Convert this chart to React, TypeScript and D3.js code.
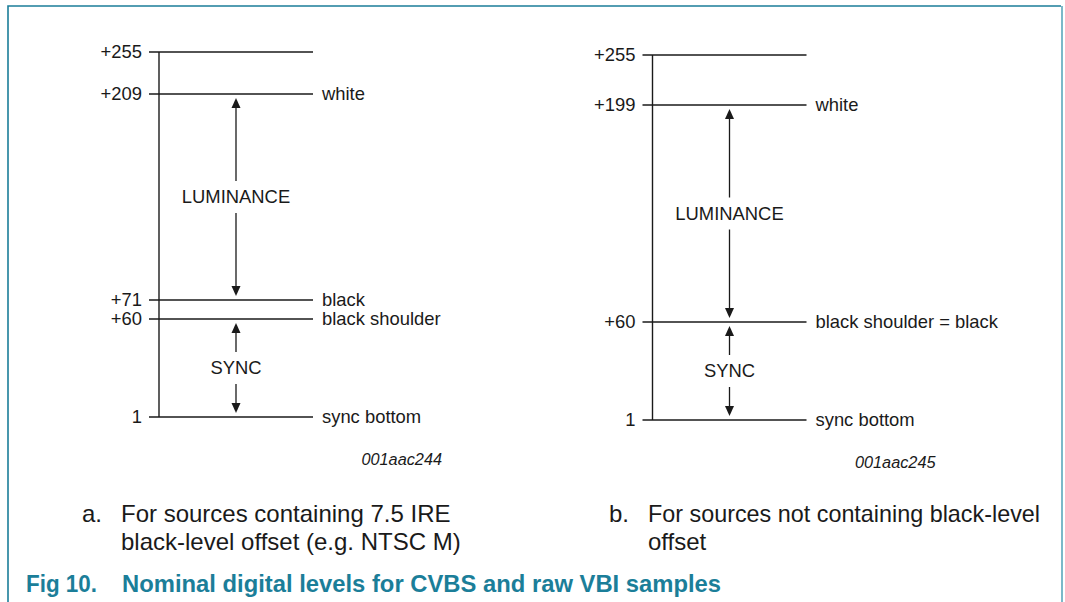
import React from "react";
import * as d3 from "d3";

// levels for panel a (with 7.5 IRE setup)
const levelsA = [255, 209, 71, 60, 1];
const tickLabelsA = ["+255", "+209", "+71", "+60", "1"];
const namesA = ["", "white", "black", "black shoulder", "sync bottom"];

// levels for panel b (no black-level offset)
const levelsB = [255, 199, 60, 1];
const tickLabelsB = ["+255", "+199", "+60", "1"];
const namesB = ["", "white", "black shoulder = black", "sync bottom"];

// arrow spans [from, to, label]
const spansA: [number, number, string][] = [
	[209, 71, "LUMINANCE"],
	[60, 1, "SYNC"],
];
const spansB: [number, number, string][] = [
	[199, 60, "LUMINANCE"],
	[60, 1, "SYNC"],
];

const captionA = ["For sources containing 7.5 IRE", "black-level offset (e.g. NTSC M)"];
const captionB = ["For sources not containing black-level", "offset"];
const figTitle = "Nominal digital levels for CVBS and raw VBI samples";

const W = 1065;
const H = 602;
const FONT = "'Liberation Sans', Arial, Helvetica, sans-serif";
const INK = "#1a1a1a";
const TEAL = "#1b7e99";
const FS = 18.4;

interface PanelProps {
	x: number;
	y: number;
	levels: number[];
	ticks: string[];
	names: string[];
	spans: [number, number, string][];
	yRange: number[];
	code: string;
}

const Panel: React.FC<PanelProps> = ({ x, y, levels, ticks, names, spans, yRange, code }) => {
	// schematic (piecewise) level scale
	const sorted = [...levels].sort((a, b) => a - b);
	const yScale = d3
		.scaleLinear()
		.domain(sorted)
		.range(yRange.map((v) => v + y));
	const xScale = d3.scaleLinear().domain([0, 1]).range([x, x + 154]);
	const arrowX = xScale(0.5);
	const gap = 4;
	const head = 10;
	const textGap = 16;

	const arrowHead = (tipY: number, dir: number) =>
		`M${arrowX},${tipY} L${arrowX - 4.5},${tipY + dir * head} L${arrowX + 4.5},${tipY + dir * head} Z`;

	return (
		<g>
			<line
				x1={x}
				x2={x}
				y1={yScale(d3.max(levels)!)}
				y2={yScale(d3.min(levels)!)}
				stroke={INK}
				strokeWidth={1.4}
			/>
			{levels.map((lv, i) => (
				<g key={lv}>
					<line
						x1={x - 10}
						x2={xScale(1)}
						y1={yScale(lv)}
						y2={yScale(lv)}
						stroke={INK}
						strokeWidth={1.4}
					/>
					<text
						x={x - 17}
						y={yScale(lv)}
						dy="0.35em"
						textAnchor="end"
						fontSize={FS}
						fill={INK}
					>
						{ticks[i]}
					</text>
					{names[i] && (
						<text x={xScale(1) + 9} y={yScale(lv)} dy="0.35em" fontSize={FS} fill={INK}>
							{names[i]}
						</text>
					)}
				</g>
			))}
			{spans.map(([hi, lo, label]) => {
				const top = yScale(hi) + gap;
				const bot = yScale(lo) - gap;
				const mid = (yScale(hi) + yScale(lo)) / 2;
				return (
					<g key={label}>
						<line x1={arrowX} x2={arrowX} y1={top + head} y2={mid - textGap} stroke={INK} strokeWidth={1.3} />
						<line x1={arrowX} x2={arrowX} y1={mid + textGap} y2={bot - head} stroke={INK} strokeWidth={1.3} />
						<path d={arrowHead(top, 1)} fill={INK} />
						<path d={arrowHead(bot, -1)} fill={INK} />
						<text x={arrowX} y={mid} dy="0.35em" textAnchor="middle" fontSize={FS} fill={INK}>
							{label}
						</text>
					</g>
				);
			})}
			<text
				x={x + 283}
				y={y + 413}
				textAnchor="end"
				fontSize={16.3}
				fontStyle="italic"
				fill={INK}
			>
				{code}
			</text>
		</g>
	);
};

const App: React.FC = () => {
	return (
		<svg
			width={W}
			height={H}
			style={{ position: "absolute", left: 0, top: 0, background: "#fff" }}
			fontFamily={FONT}
		>
			{/* frame */}
			<path d={`M8,${H} L8,6 L1061,6`} fill="none" stroke={TEAL} strokeWidth={1.6} />
			<line x1={1062} x2={1062} y1={6} y2={H} stroke="#7cb8c8" strokeWidth={2} />

			<Panel
				x={159}
				y={52}
				levels={levelsA}
				ticks={tickLabelsA}
				names={namesA}
				spans={spansA}
				yRange={[365, 267, 248, 42, 0]}
				code="001aac244"
			/>
			<Panel
				x={652.5}
				y={55}
				levels={levelsB}
				ticks={tickLabelsB}
				names={namesB}
				spans={spansB}
				yRange={[365, 267, 50, 0]}
				code="001aac245"
			/>

			{/* sub captions */}
			<text x={82} y={521.5} fontSize={24} fill={INK}>a.</text>
			{captionA.map((t, i) => (
				<text key={t} x={121} y={521.5 + i * 28.5} fontSize={24} fill={INK}>
					{t}
				</text>
			))}
			<text x={609} y={521.5} fontSize={24} fill={INK}>b.</text>
			{captionB.map((t, i) => (
				<text
					key={t}
					x={648}
					y={521.5 + i * 28.5}
					fontSize={24}
					fill={INK}
					textLength={i === 0 ? 392 : undefined}
					lengthAdjust="spacingAndGlyphs"
				>
					{t}
				</text>
			))}

			<text
				x={26}
				y={591.5}
				fontSize={23.8}
				fontWeight="bold"
				fill={TEAL}
				textLength={71}
				lengthAdjust="spacingAndGlyphs"
			>
				Fig 10.
			</text>
			<text x={122} y={591.5} fontSize={23.8} fontWeight="bold" fill={TEAL}>
				{figTitle}
			</text>
		</svg>
	);
};

export default App;
